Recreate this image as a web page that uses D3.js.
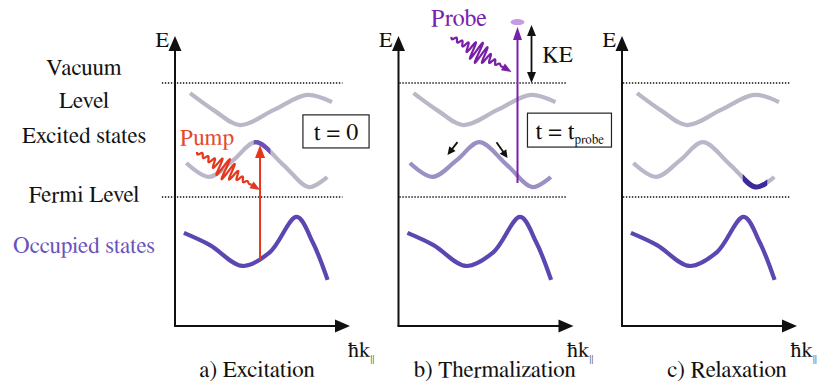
<!DOCTYPE html>
<html><head><meta charset="utf-8">
<script src="https://cdn.jsdelivr.net/npm/d3@7"></script>
<style>body{margin:0;background:#fff}</style>
</head><body><svg id="c" width="819" height="388"></svg>
<script>
// ---------- data ----------
const panelNames = ["a) Excitation", "b) Thermalization", "c) Relaxation"];
const panelCaptionK = [4.69, 5.49, 6.0];
const timeLabels = ["t = 0", "t = t", null];
const timeSubs = ["", "probe", null];
const timeBoxK = [[7.31, 11.09], [7.37, 12.17]];
const timeBoxE = [[7.28, 6.14], [7.34, 6.17]];

// bands (k = parallel momentum, E = energy, arbitrary units)
const upperK = [0.86, 2.29, 3.71, 5.65, 7.55, 8.97];
const upperE = [8.03, 7.41, 6.93, 7.45, 7.97, 7.72];
const lowerK = [0.65, 1.95, 3.33, 4.62, 6.2, 7.65, 8.7];
const lowerE = [5.62, 5.14, 5.72, 6.34, 5.55, 4.79, 5.14];
const occK = [0.51, 2.0, 3.85, 5.43, 6.95, 7.89, 8.72];
const occE = [3.21, 2.79, 2.07, 2.55, 3.76, 2.86, 1.59];

const levelNames = ["Vacuum Level", "Fermi Level"];
const levelE = [8.38, 4.45];

const leftLabels = ["Vacuum", "Level", "Excited states", "Fermi Level", "Occupied states"];
const leftLabelE = [8.66, 7.52, 6.31, 4.28, 2.52];

// excitation / probe markers
const pumpK = 4.86, pumpE = [2.28, 6.24];
const pumpHighlightK = [4.5, 5.45];
const relaxHighlightK = [6.9, 8.3];
const probeK = 6.8, probeE = [4.93, 10.31];
const keK = 7.6, keE = [10.38, 8.38];
const electronE = 10.48;

// ---------- scales ----------
const FONT = "FreeSerif, 'Liberation Serif', serif";
const svg = d3.select("#c");
const panelX = d3.scalePoint().domain(panelNames).range([175, 622]);
const y = d3.scaleLinear().domain([0, 10]).range([326, 36]);

const C = {
  grey: "#bcb6c9", occ: "#5b46b2", lav: "#9b8fc3", red: "#e5371e",
  probe: "#7a1fa8", dark: "#3a2a9e", occText: "#6953bb"
};

const defs = svg.append("defs");

function txt(g, x, yy, s, size, color, anchor) {
  return g.append("text").attr("x", x).attr("y", yy).attr("font-size", size)
    .attr("fill", color || "#111").attr("text-anchor", anchor || "start")
    .style("font-family", FONT).text(s);
}

function arrow(g, x1, y1, x2, y2, o) {
  const color = o.color || "#000", hl = o.hl || 10, hw = o.hw || 8, w = o.w || 2;
  const a = Math.atan2(y2 - y1, x2 - x1);
  const ex = x2 - Math.cos(a) * hl * 0.8, ey = y2 - Math.sin(a) * hl * 0.8;
  let sx = x1, sy = y1;
  if (o.both) { sx = x1 + Math.cos(a) * hl * 0.8; sy = y1 + Math.sin(a) * hl * 0.8; }
  g.append("line").attr("x1", sx).attr("y1", sy).attr("x2", ex).attr("y2", ey)
    .attr("stroke", color).attr("stroke-width", w);
  const head = (tx, ty, ang) => {
    const bx = tx - Math.cos(ang) * hl, by = ty - Math.sin(ang) * hl;
    const px = -Math.sin(ang) * hw / 2, py = Math.cos(ang) * hw / 2;
    g.append("path").attr("d", `M${tx},${ty}L${bx + px},${by + py}L${bx - px},${by - py}Z`).attr("fill", color);
  };
  head(x2, y2, a);
  if (o.both) head(x1, y1, a + Math.PI);
}

function wave(g, x1, y1, x2, y2, color, cycles) {
  const L = Math.hypot(x2 - x1, y2 - y1), a = Math.atan2(y2 - y1, x2 - x1);
  const ux = Math.cos(a), uy = Math.sin(a), nx = -uy, ny = ux;
  const pts = [];
  const endT = 0.86;
  for (let i = 0; i <= 400; i++) {
    const t = i / 400 * endT;
    const env = 1.8 + 9 * Math.exp(-Math.pow((t - 0.45) / 0.16, 2));
    const fade = t > 0.75 ? (endT - t) / (endT - 0.75) : 1;
    const off = env * fade * Math.sin(2 * Math.PI * cycles * t);
    pts.push([x1 + ux * L * t + nx * off, y1 + uy * L * t + ny * off]);
  }
  g.append("path").attr("d", d3.line()(pts)).attr("fill", "none").attr("stroke", color).attr("stroke-width", 2.2);
  arrow(g, x1 + ux * L * endT, y1 + uy * L * endT, x2, y2, { color, hl: 10, hw: 8, w: 2.2 });
}

// ---------- left labels ----------
leftLabels.forEach((d, i) => txt(svg, 84, y(leftLabelE[i]), d, 23, i === 4 ? C.occText : "#111", "middle"));

// ---------- panels ----------
panelNames.forEach((name, p) => {
  const ox = panelX(name);
  const x = d3.scaleLinear().domain([0, 10]).range([ox, ox + 175]);
  const g = svg.append("g");
  const line = d3.line().curve(d3.curveCatmullRom.alpha(0.5)).x(d => x(d[0])).y(d => y(d[1]));

  // dotted levels
  levelE.forEach(e => {
    g.append("line").attr("x1", x(p === 0 ? -0.75 : 0.05)).attr("x2", x(9.57))
      .attr("y1", y(e)).attr("y2", y(e))
      .attr("stroke", "#111").attr("stroke-width", 1.4).attr("stroke-dasharray", "1.4,1.6");
  });

  // bands
  const up = upperK.map((k, i) => [k, upperE[i]]);
  const lo = lowerK.map((k, i) => [k, lowerE[i]]);
  const oc = occK.map((k, i) => [k, occE[i]]);
  g.append("path").attr("d", line(up)).attr("fill", "none").attr("stroke", C.grey).attr("stroke-width", 4.2);
  g.append("path").attr("d", line(lo)).attr("fill", "none").attr("stroke", p === 1 ? C.lav : C.grey).attr("stroke-width", 4.2);
  g.append("path").attr("d", line(oc)).attr("fill", "none").attr("stroke", C.occ).attr("stroke-width", 4.2);

  if (p === 0 || p === 2) {
    const hk = p === 0 ? pumpHighlightK : relaxHighlightK;
    const id = "clip" + p;
    defs.append("clipPath").attr("id", id).append("rect")
      .attr("x", x(hk[0])).attr("width", x(hk[1]) - x(hk[0])).attr("y", 0).attr("height", 388);
    g.append("path").attr("d", line(lo)).attr("fill", "none")
      .attr("stroke", p === 0 ? "#6a50b8" : C.dark).attr("stroke-width", p === 0 ? 4.2 : 5)
      .attr("clip-path", `url(#${id})`);
  }

  // axes
  arrow(g, x(0), y(0), x(0), y(10), { color: "#111", hl: 15, hw: 13, w: 2 });
  arrow(g, x(0) - 1, y(0), x(10), y(0), { color: "#111", hl: 15, hw: 13, w: 2 });
  txt(g, x(0) - 6, y(9.62), "E", 22, "#111", "end");
  const hk = txt(g, x(p === 0 ? 9.89 : 9.63), y(-1.07), "", 22, "#111");
  hk.append("tspan").text("ħk");
  hk.append("tspan").attr("font-size", 11).attr("dy", 5).attr("letter-spacing", -0.3).text("||");

  // caption
  txt(g, x(panelCaptionK[p]), y(-1.76), name, 23, "#111", "middle");

  // time boxes
  if (timeLabels[p]) {
    const bx = timeBoxK[p], be = timeBoxE[p];
    g.append("rect").attr("x", x(bx[0])).attr("y", y(be[0]))
      .attr("width", x(bx[1]) - x(bx[0])).attr("height", y(be[1]) - y(be[0]))
      .attr("fill", "#fff").attr("stroke", "#222").attr("stroke-width", 1.2);
    const t = txt(g, x(bx[0]) + (timeSubs[p] ? 8 : (x(bx[1]) - x(bx[0])) / 2), y(be[1]) - 8, "", 24, "#111",
      timeSubs[p] ? "start" : "middle");
    t.append("tspan").text(timeLabels[p]);
    if (timeSubs[p]) t.append("tspan").attr("font-size", 13).attr("dy", 5).text(timeSubs[p]);
  }

  if (p === 0) {
    arrow(g, x(pumpK), y(pumpE[0]), x(pumpK), y(pumpE[1]), { color: C.red, hl: 13, hw: 10, w: 2 });
    wave(g, x(1.26), y(6.0), x(4.86), y(4.69), C.red, 11);
    txt(g, x(1.83), y(6.24), "Pump", 23, "#e5482a", "middle");
  }
  if (p === 1) {
    arrow(g, x(probeK), y(probeE[0]), x(probeK), y(probeE[1]), { color: C.probe, hl: 13, hw: 9, w: 2 });
    wave(g, x(3.03), y(9.97), x(6.46), y(8.76), C.probe, 11);
    g.append("ellipse").attr("cx", x(probeK)).attr("cy", y(electronE)).attr("rx", 7).attr("ry", 3).attr("fill", "#c59ce3");
    arrow(g, x(keK), y(keE[0]), x(keK), y(keE[1]), { color: "#111", hl: 11, hw: 9, w: 1.8, both: true });
    txt(g, x(3.46), y(10.34), "Probe", 24, "#7a22b0", "middle");
    txt(g, x(8.23), y(9.1), "KE", 23, "#111");
    arrow(g, x(3.37), y(6.34), x(2.8), y(5.9), { color: "#111", hl: 8, hw: 8, w: 1.8 });
    arrow(g, x(5.6), y(6.34), x(6.23), y(5.79), { color: "#111", hl: 8, hw: 8, w: 1.8 });
  }
});
</script></body></html>
